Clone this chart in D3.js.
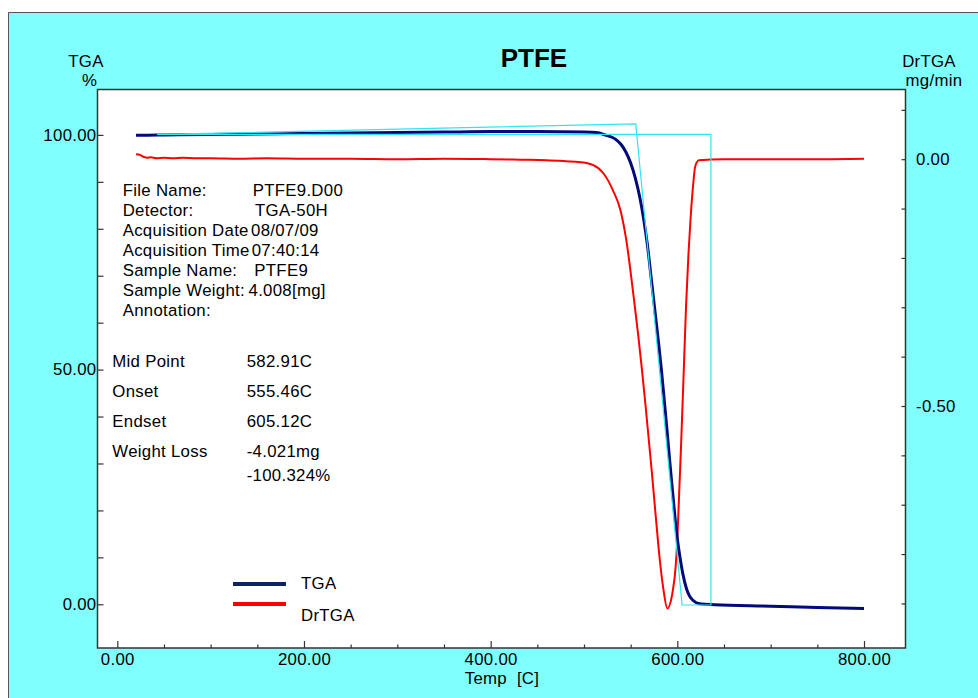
<!DOCTYPE html>
<html>
<head>
<meta charset="utf-8">
<script src="https://cdn.jsdelivr.net/npm/d3@7"></script>
<style>
  html, body { margin: 0; padding: 0; background: #ffffff; }
  svg { display: block; font-family: "Liberation Sans", Arial, sans-serif; }
</style>
</head>
<body>
<svg id="chart" width="978" height="698"></svg>
<script>
// ---- TGA (weight %) vs temperature ----
const tgaTemp = [20, 30, 50, 100, 150, 200, 250, 300, 350, 400, 450, 500, 513, 524, 530, 535, 540, 545, 550, 555, 560, 564, 568, 572, 576, 580, 582.9, 586, 589, 592, 595, 597.5, 600, 602.8, 606, 610, 613, 617, 624, 640, 700, 750, 800];
const tgaPct  = [99.95, 99.95, 100.0, 100.1, 100.2, 100.3, 100.4, 100.5, 100.6, 100.7, 100.7, 100.6, 100.5, 99.9, 99.5, 98.9, 97.9, 96.3, 94.0, 90.8, 86.5, 82.0, 76.5, 69.5, 62.5, 55.5, 50.0, 43.5, 37.0, 30.2, 23.8, 18.5, 14.0, 10.1, 6.4, 3.2, 1.8, 0.8, 0.1, -0.1, -0.4, -0.7, -0.9];

// ---- DrTGA (mg/min) vs temperature ----
const drTemp = [20, 24, 28, 32, 36, 42, 50, 60, 70, 85, 100, 130, 160, 200, 250, 300, 350, 400, 431, 460, 480, 496, 510, 521, 531, 539, 545, 553.6, 558, 562, 566, 570, 573, 575.3, 577.9, 581.4, 585, 589.3, 594.6, 598.2, 600, 601.5, 603.8, 606.5, 609.3, 612, 614.3, 617.1, 619, 621, 623, 650, 700, 750, 800];
const drVal  = [0.010, 0.009, 0.005, 0.003, 0.004, 0.002, 0.003, 0.002, 0.003, 0.002, 0.002, 0.001, 0.002, 0.001, 0.001, 0.000, 0.001, 0.000, -0.001, -0.002, -0.004, -0.006, -0.012, -0.029, -0.063, -0.103, -0.160, -0.285, -0.355, -0.425, -0.500, -0.580, -0.640, -0.690, -0.745, -0.815, -0.870, -0.910, -0.880, -0.826, -0.770, -0.700, -0.590, -0.450, -0.300, -0.190, -0.117, -0.049, -0.016, -0.006, -0.002, 0.000, 0.000, 0.000, 0.001];

// ---- step analysis construction (onset / endset tangents) ----
const stepTemp = [42.5, 555.46, 605.12, 636, 636, 42.5];
const stepPct  = [100.1, 102.35, -0.15, -0.15, 100.1, 100.1];

// ---- ticks ----
const xMajorTicks = [0, 200, 400, 600, 800];
const xMinorTicks = [50, 100, 150, 250, 300, 350, 450, 500, 550, 650, 700, 750];
const yLeftTicks = [0, 10, 20, 30, 40, 50, 60, 70, 80, 90, 100];
const yLeftLabels = [0, 50, 100];
const yRightTicks = [0.1, 0, -0.1, -0.2, -0.3, -0.4, -0.5, -0.6, -0.7, -0.8, -0.9];
const yRightLabels = [0, -0.5];

// ---- text ----
const title = "PTFE";
const infoKeys = ["File Name:", "Detector:", "Acquisition Date", "Acquisition Time", "Sample Name:", "Sample Weight:", "Annotation:"];
const infoVals = ["PTFE9.D00", "TGA-50H", "08/07/09", "07:40:14", "PTFE9", "4.008[mg]", ""];
const resultKeys = ["Mid Point", "Onset", "Endset", "Weight Loss", ""];
const resultVals = ["582.91C", "555.46C", "605.12C", "-4.021mg", "-100.324%"];
const seriesNames = ["TGA", "DrTGA"];

const svg = d3.select("#chart");
const W = 978, H = 698;
const plot = { left: 97.5, right: 905.5, top: 89.5, bottom: 648 };
const FS = 16.8;
const LS = "0.3px";

const x = d3.scaleLinear().domain([0, 800]).range([117.3, 864]);
const yL = d3.scaleLinear().domain([0, 100]).range([604.3, 134.9]);
const yR = d3.scaleLinear().domain([0, -0.5]).range([159.2, 406]);

const TGA_COLOR = "#000a7a";
const DR_COLOR = "#ff0000";
const STEP_COLOR = "#2ee6f0";
const FRAME = "#333333";

// background
svg.append("rect").attr("x", 8).attr("y", 12).attr("width", W - 8).attr("height", H - 12)
  .attr("fill", "#80ffff");
svg.append("path").attr("d", `M8.5,${H}V12.5H${W}`).attr("fill", "none")
  .attr("stroke", "#555").attr("stroke-width", 1);

// plot area
svg.append("rect").attr("x", plot.left).attr("y", plot.top)
  .attr("width", plot.right - plot.left).attr("height", plot.bottom - plot.top)
  .attr("fill", "#ffffff");

// fixed two decimals with a plain hyphen for negatives
const fmt2 = v => d3.format(".2f")(v).replace("\u2212", "-");

// bottom axis: major + minor ticks pointing inward
const xMajor = d3.axisBottom(x).tickValues(xMajorTicks).tickSizeInner(-7).tickSizeOuter(0)
  .tickPadding(5).tickFormat(fmt2);
const gxM = svg.append("g").attr("transform", `translate(0,${plot.bottom})`).call(xMajor);
const xMinor = d3.axisBottom(x).tickValues(xMinorTicks).tickSizeInner(-3.5).tickSizeOuter(0)
  .tickFormat("");
const gxm = svg.append("g").attr("transform", `translate(0,${plot.bottom})`).call(xMinor);

// left axis
const yLeftAxis = d3.axisLeft(yL).tickValues(yLeftTicks).tickSizeInner(-6).tickSizeOuter(0)
  .tickPadding(1).tickFormat(d => yLeftLabels.includes(d) ? fmt2(d) : "");
const gyl = svg.append("g").attr("transform", `translate(${plot.left},0)`).call(yLeftAxis);

// right axis
const yRightAxis = d3.axisRight(yR).tickValues(yRightTicks).tickSizeInner(-4).tickSizeOuter(0)
  .tickPadding(10.5).tickFormat(d => yRightLabels.some(v => Math.abs(v - d) < 1e-9) ? fmt2(d) : "");
const gyr = svg.append("g").attr("transform", `translate(${plot.right},0)`).call(yRightAxis);

[gxM, gxm, gyl, gyr].forEach(g => {
  g.select(".domain").remove();
  g.selectAll("line").attr("stroke", FRAME).attr("stroke-width", 1.2);
  g.selectAll("text").attr("fill", "#000").style("font-size", FS + "px")
    .style("letter-spacing", LS)
    .style("font-family", "'Liberation Sans', Arial, sans-serif");
});

// frame
svg.append("rect").attr("x", plot.left).attr("y", plot.top)
  .attr("width", plot.right - plot.left).attr("height", plot.bottom - plot.top)
  .attr("fill", "none").attr("stroke", FRAME).attr("stroke-width", 1.5);

// clip
svg.append("clipPath").attr("id", "clip").append("rect")
  .attr("x", plot.left).attr("y", plot.top)
  .attr("width", plot.right - plot.left).attr("height", plot.bottom - plot.top);
const gPlot = svg.append("g").attr("clip-path", "url(#clip)");

// DrTGA curve
const drLine = d3.line().curve(d3.curveMonotoneX).x(d => x(d[0])).y(d => yR(d[1]));
gPlot.append("path").datum(drTemp.map((t, i) => [t, drVal[i]]))
  .attr("d", drLine).attr("fill", "none").attr("stroke", DR_COLOR).attr("stroke-width", 2);

// TGA curve
const tgaLine = d3.line().curve(d3.curveMonotoneX).x(d => x(d[0])).y(d => yL(d[1]));
gPlot.append("path").datum(tgaTemp.map((t, i) => [t, tgaPct[i]]))
  .attr("d", tgaLine).attr("fill", "none").attr("stroke", TGA_COLOR).attr("stroke-width", 3)
  .attr("stroke-linejoin", "round");

// step construction lines
const stepLine = d3.line().x(d => x(d[0])).y(d => yL(d[1]));
gPlot.append("path").datum(stepTemp.map((t, i) => [t, stepPct[i]]))
  .attr("d", stepLine).attr("fill", "none").attr("stroke", STEP_COLOR).attr("stroke-width", 1.2);

// text helper
const txt = (s, xx, yy, opts = {}) => svg.append("text").attr("x", xx).attr("y", yy)
  .attr("text-anchor", opts.anchor || "start")
  .style("font-size", (opts.size || FS) + "px")
  .style("font-weight", opts.weight || "normal")
  .style("letter-spacing", opts.ls || LS)
  .style("white-space", "pre")
  .attr("fill", "#000").text(s);

txt(title, 534, 67, { anchor: "middle", size: 26, weight: "bold", ls: "0px" });
txt("TGA", 86, 67, { anchor: "middle" });
txt("%", 89.5, 86, { anchor: "middle" });
txt("DrTGA", 929, 67, { anchor: "middle" });
txt("mg/min", 934, 86, { anchor: "middle" });
txt("Temp  [C]", 502, 684, { anchor: "middle" });

// info block
const infoValX = [252.7, 255, 251, 251.7, 254.3, 248.5, 252.7];
infoKeys.forEach((k, i) => {
  txt(k, 122.7, 195.7 + i * 20);
  if (infoVals[i]) txt(infoVals[i], infoValX[i], 195.7 + i * 20);
});

// results block
const resY = [366.7, 396.7, 426.7, 456.7, 481];
resultKeys.forEach((k, i) => {
  if (k) txt(k, 112.3, resY[i]);
  txt(resultVals[i], 246.7, resY[i]);
});

// legend
const legY = [584, 604];
const legColors = ["#0a2466", DR_COLOR];
seriesNames.forEach((n, i) => {
  svg.append("line").attr("x1", 233).attr("x2", 286).attr("y1", legY[i]).attr("y2", legY[i])
    .attr("stroke", legColors[i]).attr("stroke-width", 4);
});
txt(seriesNames[0], 301, 589);
txt(seriesNames[1], 301, 621);
</script>
</body>
</html>
